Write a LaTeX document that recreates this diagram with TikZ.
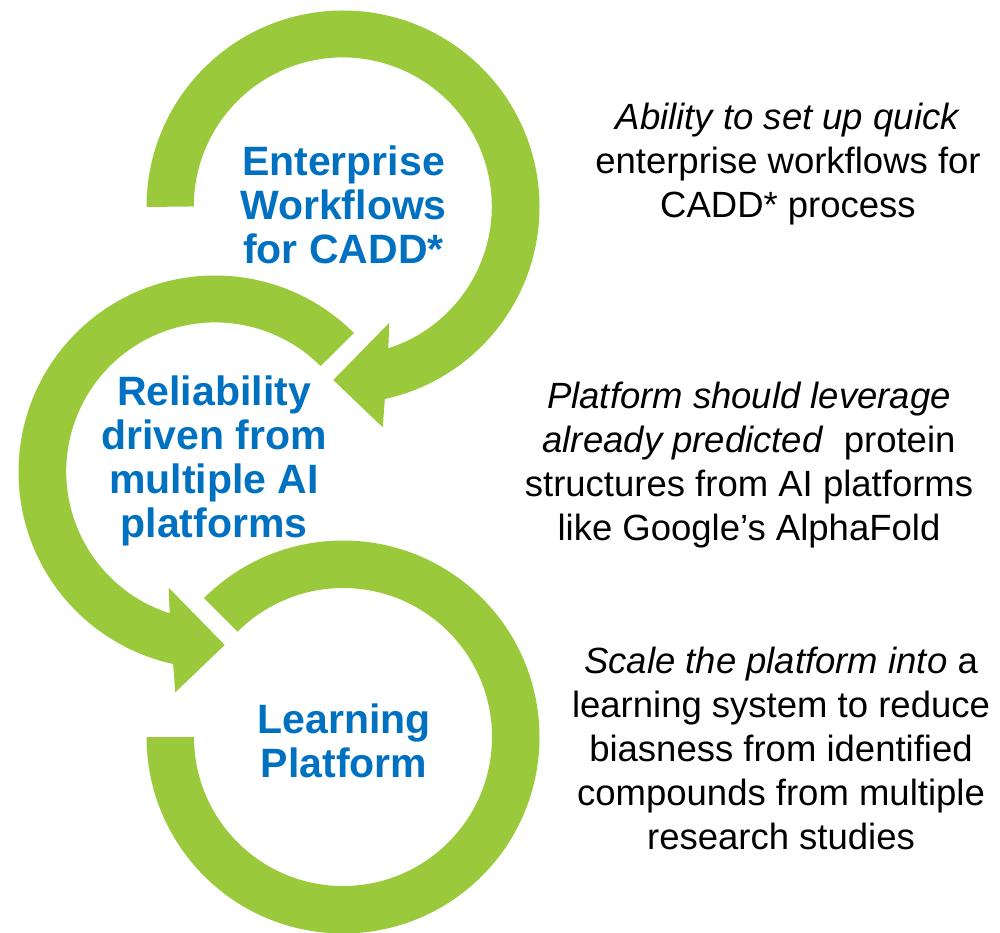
\documentclass[tikz,border=0pt]{standalone}
\usepackage{fontspec}
\setmainfont{Liberation Sans}
\usetikzlibrary{calc}
\definecolor{ringgreen}{HTML}{9ACA3C}
\definecolor{txtblue}{HTML}{0070C0}
\begin{document}
\begin{tikzpicture}[x=1pt,y=-1pt,
  ring/.style={fill=ringgreen, draw=none},
  steplabel/.style={text=txtblue, font=\bfseries\fontsize{41}{44}\selectfont, align=center, anchor=base, inner sep=0pt},
  note/.style={text=black, font=\fontsize{36.5}{44}\selectfont, align=center, anchor=base, inner sep=0pt}]
\useasboundingbox (0,0) rectangle (1000,933);
\coordinate (C1) at (343,207);
\coordinate (C2) at (215,472);
\coordinate (C3) at (343,737);
% top ring with arrow head
\fill[ring] ($(C1)+(180:196.5)$) arc[start angle=180, end angle=437.7, radius=196.5]
  -- ($(C1)+(39.7,220.3)$) -- ($(C1)+(-9.7,173)$) -- ($(C1)+(46.3,115.7)$)
  -- ($(C1)+(45.3,141.3)$) arc[start angle=72.2, end angle=-180, radius=149] -- cycle;
% middle ring with arrow head
\fill[ring] ($(C2)+(-45:196.5)$) arc[start angle=-45, end angle=-257.7, radius=196.5]
  -- ($(C2)+(-39.7,220.3)$) -- ($(C2)+(9.7,173)$) -- ($(C2)+(-46.3,115.7)$)
  -- ($(C2)+(-45.3,141.3)$) arc[start angle=-252.2, end angle=-45, radius=149] -- cycle;
% bottom ring
\fill[ring] ($(C3)+(225:196.5)$) arc[start angle=225, end angle=540, radius=196.5]
  -- ($(C3)+(180:149)$) arc[start angle=540, end angle=225, radius=149] -- cycle;
% ring labels (anchor = baseline of the last line)
\node[steplabel] (ew) at (343.5,263) {Enterprise\\Workflows\\for CADD*};
\node[steplabel] (rel) at (214,537) {Reliability\\driven from\\multiple AI\\platforms};
\node[steplabel] (lp) at (344,777) {Learning\\Platform};
% notes
\node[note] (n1) at (788,217.5) {\textit{Ability to set up quick}\\enterprise workflows for\\CADD* process};
\node[note] (n2) at (749,540) {\textit{Platform should leverage}\\\textit{already predicted}\ \ protein\\structures from AI platforms\\like Google’s AlphaFold};
\node[note] (n3) at (781,849) {\textit{Scale the platform into} a\\learning system to reduce\\biasness from identified\\compounds from multiple\\research studies};
\end{tikzpicture}
\end{document}
